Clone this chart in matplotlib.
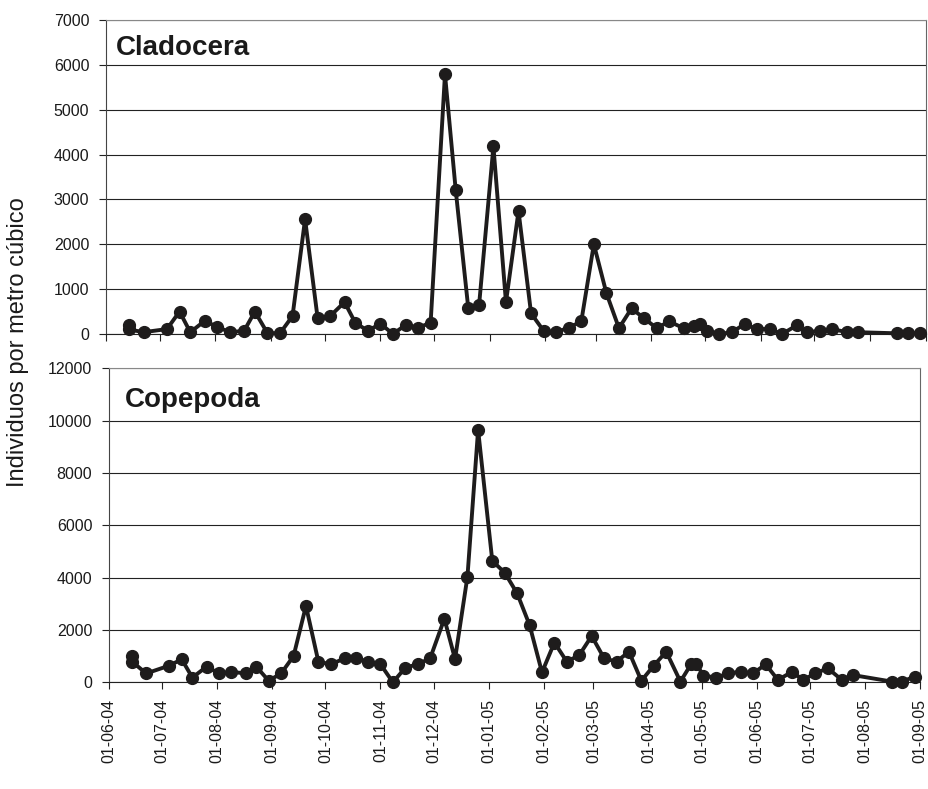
#Zooplankton abundance - Cladocera and Copepoda
import matplotlib
matplotlib.use('Agg')
import matplotlib.pyplot as plt
import matplotlib.dates as mdates
import numpy as np

plt.rcParams['font.family'] = ['Liberation Sans', 'DejaVu Sans']

#sampling dates (shared by both groups)
sample_dates = ['2004-06-14', '2004-06-14', '2004-06-22', '2004-07-05', '2004-07-12', '2004-07-18',
                '2004-07-26', '2004-08-02', '2004-08-09', '2004-08-17', '2004-08-23', '2004-08-30',
                '2004-09-06', '2004-09-13', '2004-09-20', '2004-09-27', '2004-10-04', '2004-10-12',
                '2004-10-18', '2004-10-25', '2004-11-01', '2004-11-08', '2004-11-15', '2004-11-22',
                '2004-11-29', '2004-12-07', '2004-12-13', '2004-12-20', '2004-12-26', '2005-01-03',
                '2005-01-10', '2005-01-17', '2005-01-24', '2005-01-31', '2005-02-07', '2005-02-14',
                '2005-02-21', '2005-02-28', '2005-03-07', '2005-03-14', '2005-03-21', '2005-03-28',
                '2005-04-04', '2005-04-11', '2005-04-19', '2005-04-25', '2005-04-28', '2005-05-02',
                '2005-05-09', '2005-05-16', '2005-05-23', '2005-05-30', '2005-06-06', '2005-06-13',
                '2005-06-21', '2005-06-27', '2005-07-04', '2005-07-11', '2005-07-19', '2005-07-25',
                '2005-08-16', '2005-08-22', '2005-08-29']

#individuals per cubic metre
cladocera = [200, 100, 40, 110, 500, 40, 290, 160, 40, 70, 500, 20, 15, 400, 2560, 350, 400, 710,
             250, 70, 230, 0, 200, 140, 250, 5790, 3200, 570, 640, 4180, 710, 2740, 460, 70, 40,
             140, 280, 2000, 910, 130, 570, 350, 130, 280, 130, 180, 220, 70, 0, 40, 220, 110,
             110, 0, 190, 40, 70, 110, 40, 40, 15, 15, 15]
copepoda = [1000, 790, 340, 640, 880, 180, 600, 340, 400, 340, 600, 60, 340, 1000, 2920, 790, 690,
            920, 920, 790, 690, 0, 560, 690, 920, 2430, 890, 4040, 9650, 4640, 4190, 3400, 2190,
            380, 1520, 790, 1040, 1770, 920, 790, 1170, 60, 640, 1170, 30, 690, 690, 260, 180, 340,
            410, 340, 690, 90, 410, 90, 340, 540, 90, 280, 30, 30, 220]

dates = np.array(sample_dates, dtype='datetime64[D]')
x_start = np.datetime64('2004-06-01')
x_end = np.datetime64('2005-09-01')

fig = plt.figure(figsize=(9.29, 7.89), dpi=100)
ax_top = fig.add_axes([0.1141, 0.5767, 0.8823, 0.398])
ax_bot = fig.add_axes([0.1173, 0.1352, 0.873, 0.398])

panels = [(ax_top, cladocera, 'Cladocera', 7000, 1000, (0.012, 0.888)),
          (ax_bot, copepoda, 'Copepoda', 12000, 2000, (0.020, 0.876))]

for ax, values, name, ymax, step, pos in panels:
    ax.plot(dates, values, color='#1e1c1c', lw=2.8, marker='o', markersize=8.5,
            clip_on=False, zorder=3)
    ax.set_xlim(x_start, x_end)
    ax.set_ylim(0, ymax)
    ax.set_yticks(np.arange(0, ymax + 1, step))
    ax.yaxis.grid(True, color='#222222', lw=0.8)
    ax.set_axisbelow(True)
    ax.xaxis.set_major_locator(mdates.MonthLocator())
    ax.xaxis.set_major_formatter(mdates.DateFormatter('%d-%m-%y'))
    ax.tick_params(direction='out', length=5, width=0.8, colors='#222222',
                   labelsize=11.5, pad=7, labelcolor='#1a1a1a')
    ax.spines['top'].set_color('#888888')
    ax.spines['right'].set_color('#666666')
    ax.spines['left'].set_color('#444444')
    ax.spines['bottom'].set_color('#222222')
    for s in ax.spines.values():
        s.set_linewidth(0.8)
    ax.text(pos[0], pos[1], name, transform=ax.transAxes, fontsize=20,
            fontweight='bold', color='#1a1a1a', va='baseline', ha='left')

ax_top.tick_params(axis='x', labelbottom=False)
plt.setp(ax_bot.get_xticklabels(), rotation=90, ha='center')

fig.text(0.0194, 0.5665, 'Individuos por metro cúbico', rotation=90,
         ha='center', va='center', fontsize=17, color='#1a1a1a')

plt.savefig('out.png', dpi=100)
plt.close()
